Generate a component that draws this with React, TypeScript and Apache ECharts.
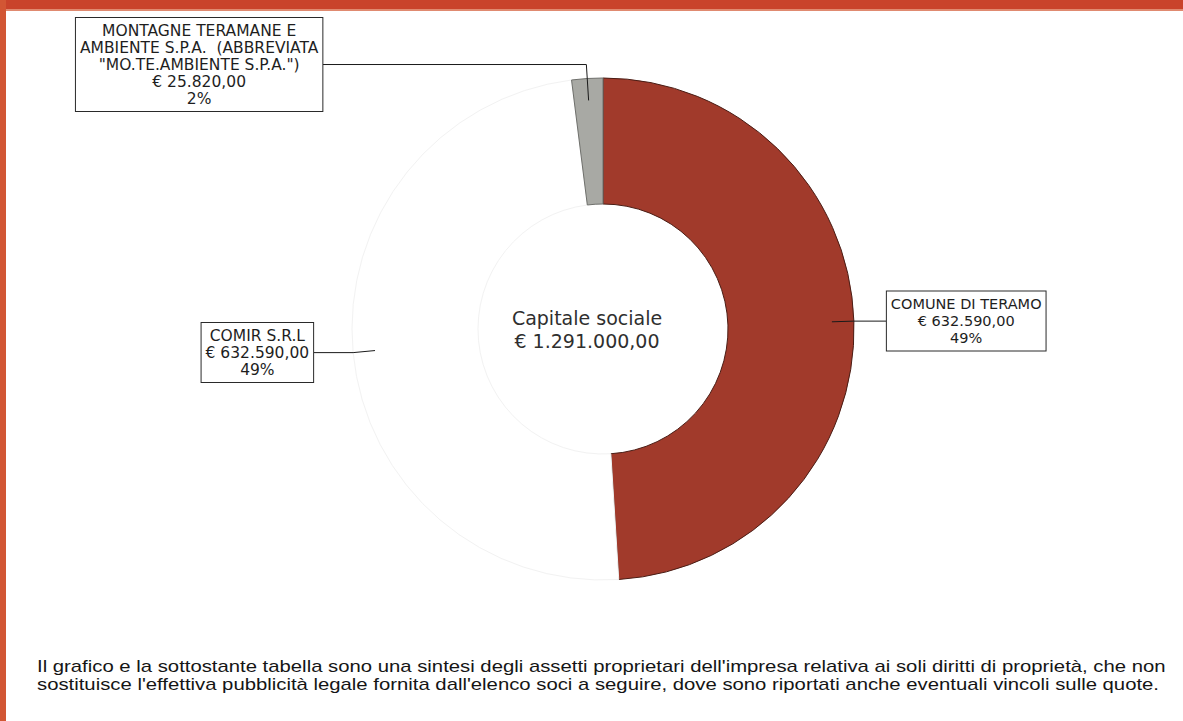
import React, { useEffect, useRef } from "react";
import * as echarts from "echarts";

const categories = [
  "COMUNE DI TERAMO",
  "COMIR S.R.L",
  'MONTAGNE TERAMANE E\nAMBIENTE S.P.A.  (ABBREVIATA\n"MO.TE.AMBIENTE S.P.A.")',
];
const values = [632590, 632590, 25820];
const valueLabels = ["€ 632.590,00", "€ 632.590,00", "€ 25.820,00"];
const percentLabels = ["49%", "49%", "2%"];
const sliceColors = ["#a13a2b", "#ffffff", "#a8a9a4"];
const sliceBorders = ["#4a1d15", "#f2f2f2", "#6f706c"];
const lineLengths = [22, 22, 36];
const lineLengths2 = [33, 40, 264];
const labelFontSizes = [14.5, 15.5, 15.5];

const centerTitle = ["Capitale sociale", "€ 1.291.000,00"];
const footnote = [
  "Il grafico e la sottostante tabella sono una sintesi degli assetti proprietari dell'impresa relativa ai soli diritti di proprietà, che non",
  "sostituisce l'effettiva pubblicità legale fornita dall'elenco soci a seguire, dove sono riportati anche eventuali vincoli sulle quote.",
];

const CX = 603;
const CY = 329;

export default function App() {
  const ref = useRef<HTMLDivElement>(null);

  useEffect(() => {
    if (!ref.current) return;
    const chart = echarts.init(ref.current, undefined, { renderer: "svg" });

    const sliceData = categories.map((name, i) => ({
      name,
      value: values[i],
      itemStyle: { color: sliceColors[i], borderColor: sliceBorders[i], borderWidth: 1 },
    }));

    const labelData = categories.map((name, i) => ({
      name,
      value: values[i],
      labelLine: { length: lineLengths[i], length2: lineLengths2[i] },
      label: {
        rich: {
          a: {
            align: "center",
            fontSize: labelFontSizes[i],
            lineHeight: 17,
            fontFamily: "DejaVu Sans",
            color: "#1e1e1e",
          },
        },
      },
    }));

    const option: any = {
      animation: false,
      backgroundColor: "#ffffff",
      series: [
        {
          type: "pie",
          z: 2,
          center: [CX, CY],
          radius: [125, 251],
          startAngle: 90,
          clockwise: true,
          silent: true,
          label: { show: false },
          labelLine: { show: false },
          data: sliceData,
        },
        {
          type: "pie",
          z: 6,
          center: [CX, CY],
          radius: [0, 229],
          startAngle: 90,
          clockwise: true,
          silent: true,
          avoidLabelOverlap: false,
          itemStyle: { color: "rgba(0,0,0,0)", borderWidth: 0 },
          data: labelData,
          label: {
            show: true,
            position: "outside",
            alignTo: "none",
            distanceToLabelLine: 0,
            backgroundColor: "#ffffff",
            borderColor: "#2a2a2a",
            borderWidth: 1,
            padding: [4, 4],
            formatter: (p: any) => {
              const i = p.dataIndex;
              const lines = [...categories[i].split("\n"), valueLabels[i], percentLabels[i]];
              return lines.map((l) => `{a|${l}}`).join("\n");
            },
            rich: {
              a: {
                align: "center",
                fontSize: 14.5,
                lineHeight: 17,
                fontFamily: "DejaVu Sans",
                color: "#1e1e1e",
              },
            },
          },
          labelLine: {
            show: true,
            lineStyle: { color: "#1a1a1a", width: 1 },
          },
        },
      ],
      graphic: [
        { type: "rect", shape: { x: 0, y: 0, width: 1183, height: 9 }, style: { fill: "#c9432b" } },
        { type: "rect", shape: { x: 0, y: 9, width: 1183, height: 2 }, style: { fill: "#e08a70" } },
        { type: "rect", shape: { x: 0, y: 0, width: 6, height: 721 }, style: { fill: "#d25634" } },
        {
          type: "text",
          x: 587,
          y: CY - 11,
          style: {
            text: centerTitle[0],
            align: "center",
            verticalAlign: "middle",
            fontSize: 19,
            fontFamily: "DejaVu Sans",
            fill: "#2f2f2f",
          },
        },
        {
          type: "text",
          x: 587,
          y: CY + 12,
          style: {
            text: centerTitle[1],
            align: "center",
            verticalAlign: "middle",
            fontSize: 19,
            fontFamily: "DejaVu Sans",
            fill: "#2f2f2f",
          },
        },
        ...footnote.map((t, i) => ({
          type: "text",
          x: 37,
          y: 666 + i * 18,
          scaleX: 1.194,
          style: {
            text: t,
            align: "left",
            verticalAlign: "middle",
            fontSize: 17,
            fontFamily: "Liberation Sans",
            fill: "#151515",
          },
        })),
      ],
    };

    chart.setOption(option);
    return () => chart.dispose();
  }, []);

  return (
    <div
      ref={ref}
      style={{ position: "absolute", left: 0, top: 0, width: 1183, height: 721 }}
    />
  );
}
